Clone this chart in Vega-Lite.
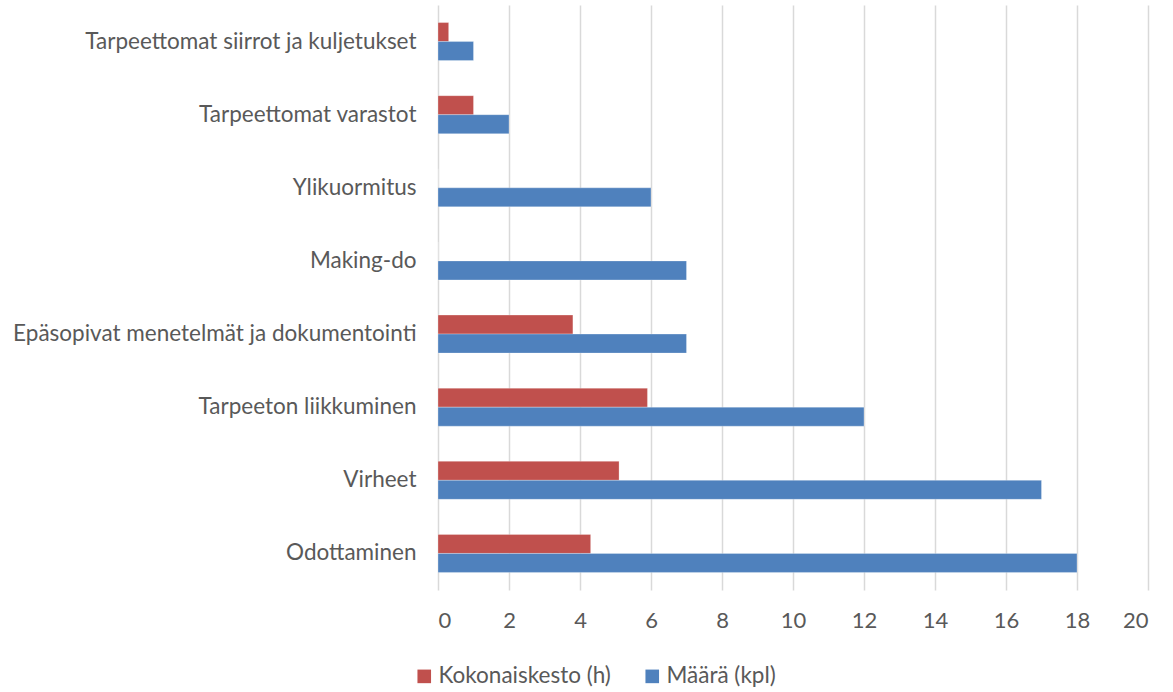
{
  "$schema": "https://vega.github.io/schema/vega-lite/v6.json",
  "autosize": "none",
  "width": 710,
  "height": 585,
  "padding": {"left": 438, "top": 5, "right": 25, "bottom": 102},
  "background": "white",
  "config": {
    "font": "Lato",
    "view": {"stroke": null}
  },
  "data": {
    "values": [
      {"kategoria": "Tarpeettomat siirrot ja kuljetukset", "sarja": "Kokonaiskesto (h)", "arvo": 0.3},
      {"kategoria": "Tarpeettomat siirrot ja kuljetukset", "sarja": "Määrä (kpl)", "arvo": 1},
      {"kategoria": "Tarpeettomat varastot", "sarja": "Kokonaiskesto (h)", "arvo": 1},
      {"kategoria": "Tarpeettomat varastot", "sarja": "Määrä (kpl)", "arvo": 2},
      {"kategoria": "Ylikuormitus", "sarja": "Kokonaiskesto (h)", "arvo": 0},
      {"kategoria": "Ylikuormitus", "sarja": "Määrä (kpl)", "arvo": 6},
      {"kategoria": "Making-do", "sarja": "Kokonaiskesto (h)", "arvo": 0},
      {"kategoria": "Making-do", "sarja": "Määrä (kpl)", "arvo": 7},
      {"kategoria": "Epäsopivat menetelmät ja dokumentointi", "sarja": "Kokonaiskesto (h)", "arvo": 3.8},
      {"kategoria": "Epäsopivat menetelmät ja dokumentointi", "sarja": "Määrä (kpl)", "arvo": 7},
      {"kategoria": "Tarpeeton liikkuminen", "sarja": "Kokonaiskesto (h)", "arvo": 5.9},
      {"kategoria": "Tarpeeton liikkuminen", "sarja": "Määrä (kpl)", "arvo": 12},
      {"kategoria": "Virheet", "sarja": "Kokonaiskesto (h)", "arvo": 5.1},
      {"kategoria": "Virheet", "sarja": "Määrä (kpl)", "arvo": 17},
      {"kategoria": "Odottaminen", "sarja": "Kokonaiskesto (h)", "arvo": 4.3},
      {"kategoria": "Odottaminen", "sarja": "Määrä (kpl)", "arvo": 18}
    ]
  },
  "mark": {"type": "bar", "stroke": "white", "strokeOpacity": 0.35, "strokeWidth": 0.8},
  "encoding": {
    "y": {
      "field": "kategoria",
      "type": "nominal",
      "sort": null,
      "scale": {"paddingInner": 0.48, "paddingOuter": 0.24},
      "axis": {
        "title": null,
        "domain": false,
        "ticks": false,
        "labelPadding": 22,
        "labelFontSize": 22.5,
        "labelColor": "#595959",
        "labelLimit": 500
      }
    },
    "yOffset": {
      "field": "sarja",
      "type": "nominal",
      "sort": ["Kokonaiskesto (h)", "Määrä (kpl)"]
    },
    "x": {
      "field": "arvo",
      "type": "quantitative",
      "scale": {"domain": [0, 20], "nice": false},
      "axis": {
        "title": null,
        "values": [0, 2, 4, 6, 8, 10, 12, 14, 16, 18, 20],
        "domain": false,
        "ticks": false,
        "grid": true,
        "gridColor": "#d9d9d9",
        "gridWidth": 1.5,
        "labelPadding": 20,
        "labelFontSize": 22,
        "labelColor": "#595959"
      }
    },
    "color": {
      "field": "sarja",
      "type": "nominal",
      "sort": ["Kokonaiskesto (h)", "Määrä (kpl)"],
      "scale": {"range": ["#C0504D", "#4F81BD"]},
      "legend": {
        "title": null,
        "orient": "none",
        "direction": "horizontal",
        "legendX": -25,
        "legendY": 660,
        "symbolType": "square",
        "symbolSize": 185,
        "symbolStrokeWidth": 0,
        "symbolOffset": 0,
        "labelFontSize": 22.5,
        "labelColor": "#595959",
        "labelOffset": 3,
        "labelLimit": 400,
        "columnPadding": 30
      }
    }
  }
}
